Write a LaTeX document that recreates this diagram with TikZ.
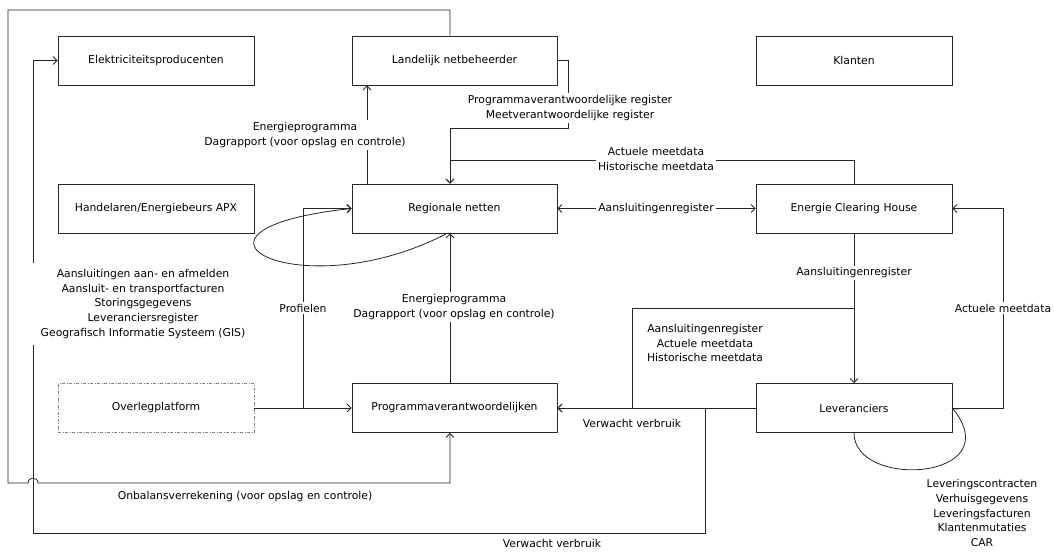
\documentclass[tikz,border=0pt]{standalone}
\usepackage{fontspec}
\setmainfont{DejaVu Sans}
\usetikzlibrary{arrows.meta}

\begin{document}
\begin{tikzpicture}[x=1pt,y=-1pt,
  txt/.style={font=\fontsize{10.8}{14.8}\selectfont},
  box/.style={txt, draw=black!85, line width=0.8pt, minimum width=196pt,
    minimum height=49pt, inner sep=0pt, fill=white},
  wbox/.style={box, minimum width=205pt},
  dbox/.style={box, draw=black!50, line width=0.6pt,
    dash pattern=on 3pt off 1.5pt on 1pt off 1.5pt},
  conn/.style={draw=black!85, line width=0.8pt},
  arr/.style={conn, -{Straight Barb[length=4pt,width=8pt]}},
  dblarr/.style={conn, {Straight Barb[length=4pt,width=8pt]}-{Straight Barb[length=4pt,width=8pt]}},
  lbl/.style={txt, fill=white, inner sep=2pt, align=center},
]
\useasboundingbox (0,0) rectangle (1054,556);

% boxes
\node[box]  (elek)    at (156,60.5)    {Elektriciteitsproducenten};
\node[wbox] (land)    at (454.5,60.5)  {Landelijk netbeheerder};
\node[box]  (klant)   at (854,60.5)    {Klanten};
\node[box]  (hand)    at (156,208.5)   {Handelaren/Energiebeurs APX};
\node[wbox] (reg)     at (454.5,208.5) {Regionale netten};
\node[box]  (ech)     at (854,208.5)   {Energie Clearing House};
\node[dbox] (overleg) at (156,408)     {Overlegplatform};
\node[wbox] (pv)      at (454.5,408)   {Programmaverantwoordelijken};
\node[box]  (lev)     at (854,408)     {Leveranciers};

% reference columns for vertical connectors
\coordinate (cA) at (450,0);
\coordinate (cB) at (367,0);
\coordinate (cC) at (447,0);

% Landelijk netbeheerder -> Programmaverantwoordelijken (outer loop, hops over x=33)
\draw[arr] (land.north -| cA) -- (450,10) -- (8,10) -- (8,483) -- (28,483)
  .. controls (28,476.5) and (38,476.5) .. (38,483) -- (450,483) -- (pv.south -| cA);

% Leveranciers -> Programmaverantwoordelijken
\draw[arr] (lev.west) -- (pv.east);
% Leveranciers -> Elektriciteitsproducenten
\draw[arr] (lev.west) -- (705,408) -- (705,533) -- (33,533) -- (33,60.5) -- (elek.west);

% Energie Clearing House -> Leveranciers
\draw[arr] (ech.south) -- (lev.north);
% Energie Clearing House -> Programmaverantwoordelijken
\draw[arr] (ech.south) -- (854,308) -- (632,308) -- (632,408) -- (pv.east);

% Leveranciers -> Energie Clearing House
\draw[arr] (lev.east) -- (1003,408) -- (1003,208.5) -- (ech.east);
% Leveranciers self loop
\draw[arr] (lev.south) .. controls (854,490) and (1010,480) .. (lev.east);

% Regionale netten <-> Energie Clearing House
\draw[dblarr] (reg.east) -- (ech.west);

% Regionale netten -> Landelijk netbeheerder
\draw[arr] (reg.north -| cB) -- (land.south -| cB);
% Landelijk netbeheerder -> Regionale netten
\draw[arr] (land.east) -- (568,60.5) -- (568,128) -- (450,128) -- (reg.north -| cA);
% Energie Clearing House -> Regionale netten
\draw[arr] (ech.north) -- (854,160) -- (450,160) -- (reg.north -| cA);

% Overlegplatform -> Programmaverantwoordelijken / Regionale netten
\draw[arr] (overleg.east) -- (pv.west);
\draw[arr] (overleg.east) -- (303,408) -- (303,208.5) -- (reg.west);

% Regionale netten self loop
\draw[arr] (reg.south -| cC) .. controls (300,310) and (150,230) .. (reg.west);

% Programmaverantwoordelijken -> Regionale netten
\draw[arr] (pv.north -| cA) -- (reg.south -| cA);

% connector labels
\node[lbl] at (305,135) {Energieprogramma\\Dagrapport (voor opslag en controle)};
\node[lbl] at (570,108) {Programmaverantwoordelijke register\\Meetverantwoordelijke register};
\node[lbl] at (656,159) {Actuele meetdata\\Historische meetdata};
\node[lbl] at (656,208.5) {Aansluitingenregister};
\node[lbl] at (854,273) {Aansluitingenregister};
\node[lbl] at (1003,308) {Actuele meetdata};
\node[lbl] at (705,343) {Aansluitingenregister\\Actuele meetdata\\Historische meetdata};
\node[lbl] at (632,423) {Verwacht verbruik};
\node[lbl] at (552,543) {Verwacht verbruik};
\node[lbl] at (245,497) {Onbalansverrekening (voor opslag en controle)};
\node[lbl] at (303,308) {Profielen};
\node[lbl] at (454,307) {Energieprogramma\\Dagrapport (voor opslag en controle)};
\node[lbl, inner xsep=12pt, inner ysep=6pt] at (143,304) {Aansluitingen aan- en afmelden\\Aansluit- en transportfacturen\\Storingsgegevens\\Leveranciersregister\\Geografisch Informatie Systeem (GIS)};
\node[lbl] at (982,513) {Leveringscontracten\\Verhuisgegevens\\Leveringsfacturen\\Klantenmutaties\\CAR};
\end{tikzpicture}
\end{document}
